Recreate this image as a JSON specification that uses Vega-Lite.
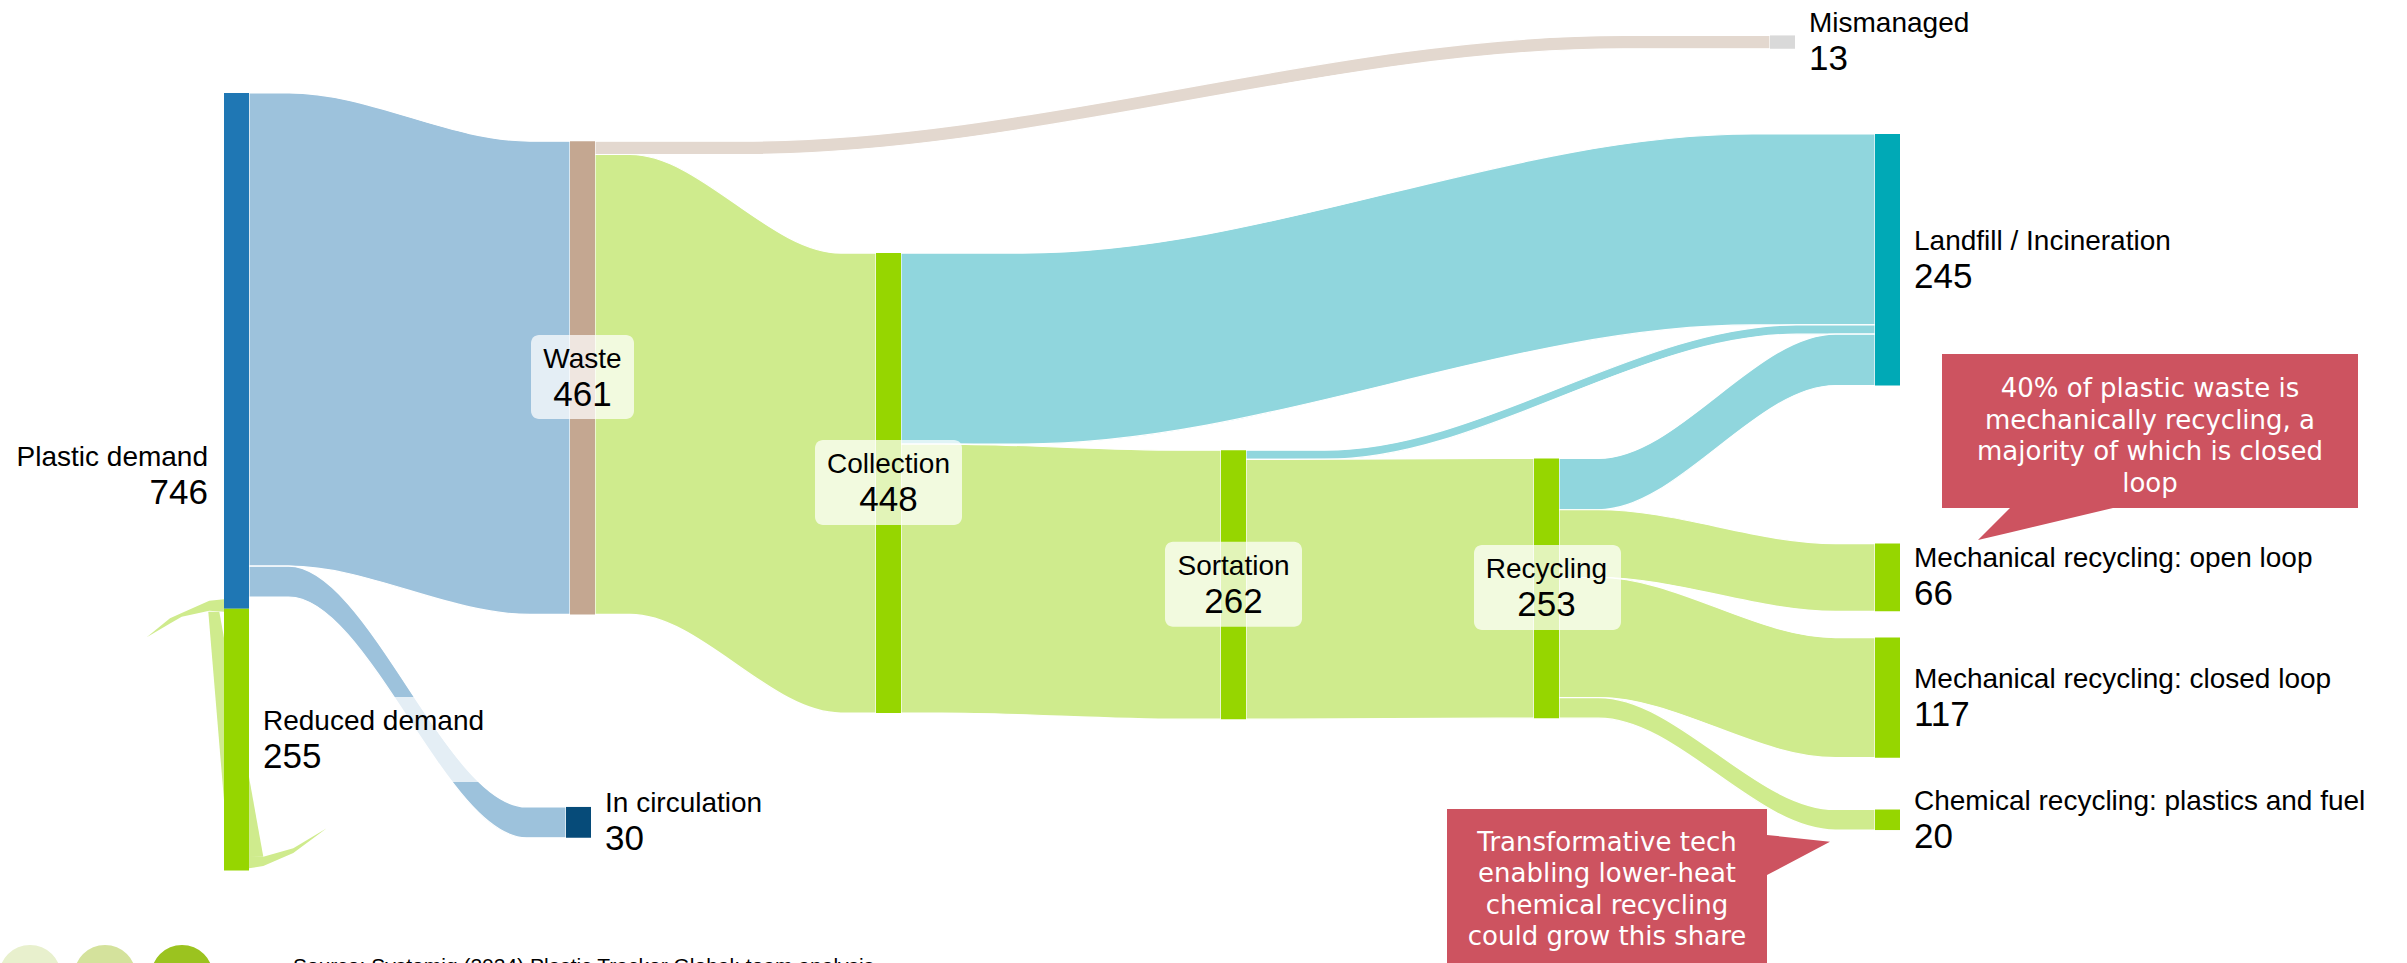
{
  "$schema": "https://vega.github.io/schema/vega-lite/v6.json",
  "width": 2407,
  "height": 963,
  "autosize": {"type": "fit", "contains": "padding"},
  "padding": 0,
  "background": "white",
  "config": {"view": {"stroke": null}},
  "datasets": {
    "links": [
      {"link": "PD-W", "kind": "demand flow", "x": 249, "y": 90.5, "y2": 551.5},
      {"link": "PD-W", "kind": "demand flow", "x": 289.1, "y": 90.5, "y2": 551.5},
      {"link": "PD-W", "kind": "demand flow", "x": 529.9, "y": 137.5, "y2": 598.5},
      {"link": "PD-W", "kind": "demand flow", "x": 570, "y": 137.5, "y2": 598.5},
      {"link": "PD-IC", "kind": "demand flow", "x": 249, "y": 551.5, "y2": 581.5},
      {"link": "PD-IC", "kind": "demand flow", "x": 288.6, "y": 551.5, "y2": 581.5},
      {"link": "PD-IC", "kind": "demand flow", "x": 526.4, "y": 786, "y2": 816},
      {"link": "PD-IC", "kind": "demand flow", "x": 566, "y": 786, "y2": 816},
      {"link": "W-M", "kind": "mismanaged flow", "x": 595, "y": 137.5, "y2": 150.5},
      {"link": "W-M", "kind": "mismanaged flow", "x": 741.9, "y": 137.5, "y2": 150.5},
      {"link": "W-M", "kind": "mismanaged flow", "x": 1623.1, "y": 34.5, "y2": 47.5},
      {"link": "W-M", "kind": "mismanaged flow", "x": 1770, "y": 34.5, "y2": 47.5},
      {"link": "W-C", "kind": "recycling flow", "x": 595, "y": 150.5, "y2": 598.5},
      {"link": "W-C", "kind": "recycling flow", "x": 630.1, "y": 150.5, "y2": 598.5},
      {"link": "W-C", "kind": "recycling flow", "x": 840.9, "y": 246.5, "y2": 694.5},
      {"link": "W-C", "kind": "recycling flow", "x": 876, "y": 246.5, "y2": 694.5},
      {"link": "C-L", "kind": "landfill flow", "x": 901, "y": 246.5, "y2": 432.5},
      {"link": "C-L", "kind": "landfill flow", "x": 1022.8, "y": 246.5, "y2": 432.5},
      {"link": "C-L", "kind": "landfill flow", "x": 1753.2, "y": 130.5, "y2": 316.5},
      {"link": "C-L", "kind": "landfill flow", "x": 1875, "y": 130.5, "y2": 316.5},
      {"link": "C-S", "kind": "recycling flow", "x": 901, "y": 432.5, "y2": 694.5},
      {"link": "C-S", "kind": "recycling flow", "x": 941, "y": 432.5, "y2": 694.5},
      {"link": "C-S", "kind": "recycling flow", "x": 1181, "y": 438.5, "y2": 700.5},
      {"link": "C-S", "kind": "recycling flow", "x": 1221, "y": 438.5, "y2": 700.5},
      {"link": "S-L", "kind": "landfill flow", "x": 1246, "y": 438.5, "y2": 447.5},
      {"link": "S-L", "kind": "landfill flow", "x": 1324.6, "y": 438.5, "y2": 447.5},
      {"link": "S-L", "kind": "landfill flow", "x": 1796.4, "y": 316.5, "y2": 325.5},
      {"link": "S-L", "kind": "landfill flow", "x": 1875, "y": 316.5, "y2": 325.5},
      {"link": "S-R", "kind": "recycling flow", "x": 1246, "y": 447.5, "y2": 700.5},
      {"link": "S-R", "kind": "recycling flow", "x": 1282, "y": 447.5, "y2": 700.5},
      {"link": "S-R", "kind": "recycling flow", "x": 1498, "y": 446.5, "y2": 699.5},
      {"link": "S-R", "kind": "recycling flow", "x": 1534, "y": 446.5, "y2": 699.5},
      {"link": "R-L", "kind": "landfill flow", "x": 1559, "y": 446.5, "y2": 496.5},
      {"link": "R-L", "kind": "landfill flow", "x": 1598.5, "y": 446.5, "y2": 496.5},
      {"link": "R-L", "kind": "landfill flow", "x": 1835.5, "y": 325.5, "y2": 375.5},
      {"link": "R-L", "kind": "landfill flow", "x": 1875, "y": 325.5, "y2": 375.5},
      {"link": "R-O", "kind": "recycling flow", "x": 1559, "y": 496.5, "y2": 562.5},
      {"link": "R-O", "kind": "recycling flow", "x": 1598.5, "y": 496.5, "y2": 562.5},
      {"link": "R-O", "kind": "recycling flow", "x": 1835.5, "y": 529.5, "y2": 595.5},
      {"link": "R-O", "kind": "recycling flow", "x": 1875, "y": 529.5, "y2": 595.5},
      {"link": "R-CL", "kind": "recycling flow", "x": 1559, "y": 562.5, "y2": 679.5},
      {"link": "R-CL", "kind": "recycling flow", "x": 1598.5, "y": 562.5, "y2": 679.5},
      {"link": "R-CL", "kind": "recycling flow", "x": 1835.5, "y": 621, "y2": 738},
      {"link": "R-CL", "kind": "recycling flow", "x": 1875, "y": 621, "y2": 738},
      {"link": "R-CH", "kind": "recycling flow", "x": 1559, "y": 679.5, "y2": 699.5},
      {"link": "R-CH", "kind": "recycling flow", "x": 1598.5, "y": 679.5, "y2": 699.5},
      {"link": "R-CH", "kind": "recycling flow", "x": 1835.5, "y": 788.5, "y2": 808.5},
      {"link": "R-CH", "kind": "recycling flow", "x": 1875, "y": 788.5, "y2": 808.5}
    ],
    "loop": [
      {"piece": "top", "x": 146.7, "y": 620.8, "y2": 620.8},
      {"piece": "top", "x": 170, "y": 602.3, "y2": 607.4},
      {"piece": "top", "x": 181.7, "y": 597.2, "y2": 600.7},
      {"piece": "top", "x": 209.3, "y": 585.1, "y2": 594.8},
      {"piece": "top", "x": 224, "y": 583.7, "y2": 595.8},
      {"piece": "bottom", "x": 249, "y": 833.8, "y2": 845.8},
      {"piece": "bottom", "x": 263.3, "y": 834.5, "y2": 843.5},
      {"piece": "bottom", "x": 293.3, "y": 826.3, "y2": 830.8},
      {"piece": "bottom", "x": 326.7, "y": 806.8, "y2": 806.8}
    ],
    "sliver": [
      {"y": 595.8, "x": 208.3, "x2": 219.3},
      {"y": 834.5, "x": 228.7, "x2": 263.3}
    ],
    "nodes": [
      {"node": "Plastic demand", "value": 746, "kind": "demand", "x0": 224, "x1": 249, "y0": 90.5, "y1": 593, "side": "left", "lx": 224, "ly": 463.6},
      {"node": "Reduced demand", "value": 255, "kind": "reduced", "x0": 224, "x1": 249, "y0": 593, "y1": 848, "side": "right", "lx": 249, "ly": 720.5, "bx0": 250, "bx1": 502, "by0": 678.9, "by1": 761.7},
      {"node": "Waste", "value": 461, "kind": "waste", "x0": 570, "x1": 595, "y0": 137.5, "y1": 598.5, "side": "center", "lx": 582.5, "ly": 368, "bx0": 531, "bx1": 634, "by0": 326.3, "by1": 408.1},
      {"node": "In circulation", "value": 30, "kind": "circulation", "x0": 566, "x1": 591, "y0": 786, "y1": 816, "side": "right", "lx": 591, "ly": 801},
      {"node": "Collection", "value": 448, "kind": "recycling", "x0": 876, "x1": 901, "y0": 246.5, "y1": 694.5, "side": "center", "lx": 888.5, "ly": 470.5, "bx0": 815, "bx1": 962, "by0": 428.6, "by1": 511.4},
      {"node": "Mismanaged", "value": 13, "kind": "mismanaged", "x0": 1770, "x1": 1795, "y0": 34.5, "y1": 47.5, "side": "right", "lx": 1795, "ly": 41},
      {"node": "Sortation", "value": 262, "kind": "recycling", "x0": 1221, "x1": 1246, "y0": 438.5, "y1": 700.5, "side": "center", "lx": 1233.5, "ly": 569.5, "bx0": 1165, "bx1": 1302, "by0": 527.6, "by1": 610.4},
      {"node": "Recycling", "value": 253, "kind": "recycling", "x0": 1534, "x1": 1559, "y0": 446.5, "y1": 699.5, "side": "center", "lx": 1546.5, "ly": 573, "bx0": 1474, "bx1": 1621, "by0": 530.8, "by1": 613.6},
      {"node": "Landfill / Incineration", "value": 245, "kind": "landfill", "x0": 1875, "x1": 1900, "y0": 130.5, "y1": 375.5, "side": "right", "lx": 1900, "ly": 253},
      {"node": "Mechanical recycling: open loop", "value": 66, "kind": "recycling", "x0": 1875, "x1": 1900, "y0": 529.5, "y1": 595.5, "side": "right", "lx": 1900, "ly": 562.5},
      {"node": "Mechanical recycling: closed loop", "value": 117, "kind": "recycling", "x0": 1875, "x1": 1900, "y0": 621, "y1": 738, "side": "right", "lx": 1900, "ly": 679.5},
      {"node": "Chemical recycling: plastics and fuel", "value": 20, "kind": "recycling", "x0": 1875, "x1": 1900, "y0": 788.5, "y1": 808.5, "side": "right", "lx": 1900, "ly": 798.5}
    ],
    "callouts": [
      {"id": "c1", "x": 1942, "x2": 2358, "y": 344.8, "y2": 494.8, "tx": 2150, "ty": 386.7, "text": "40% of plastic waste is\nmechanically recycling, a\nmajority of which is closed\nloop"},
      {"id": "c2", "x": 1447, "x2": 1767, "y": 788, "y2": 938, "tx": 1607, "ty": 828.9, "text": "Transformative tech\nenabling lower-heat\nchemical recycling\ncould grow this share"}
    ],
    "pointers": [
      {"id": "p1", "x": 1978, "y": 526.0, "y2": 526.0},
      {"id": "p1", "x": 2010, "y": 494.8, "y2": 518.6},
      {"id": "p1", "x": 2113, "y": 494.8, "y2": 494.8},
      {"id": "p2", "x": 1760, "y": 812.5, "y2": 853.0},
      {"id": "p2", "x": 1767, "y": 813.3, "y2": 852.3},
      {"id": "p2", "x": 1830, "y": 819.9, "y2": 819.9}
    ],
    "dots": [
      {"x": 30, "y": 950.7, "shade": "light"},
      {"x": 105, "y": 950.7, "shade": "mid"},
      {"x": 182, "y": 950.7, "shade": "dark"}
    ],
    "source": [
      {"x": 293, "y": 948, "text": "Source: Systemiq (2024) Plastic Tracker Global; team analysis"}
    ]
  },
  "layer": [
    {
      "data": {"name": "links"},
      "mark": {"type": "area", "interpolate": "monotone", "stroke": "white", "strokeWidth": 1.2, "opacity": 1},
      "encoding": {
        "x": {"field": "x", "type": "quantitative", "scale": {"domain": [0, 2407], "nice": false, "zero": false}, "axis": null},
        "y": {"field": "y", "type": "quantitative", "scale": {"domain": [0, 938], "nice": false, "zero": false, "reverse": true}, "axis": null},
        "y2": {"field": "y2"},
        "detail": {"field": "link", "type": "nominal"},
        "color": {"field": "kind", "type": "nominal", "legend": null,
          "scale": {"domain": ["demand", "reduced", "waste", "circulation", "mismanaged", "landfill", "recycling", "demand flow", "mismanaged flow", "landfill flow", "recycling flow"],
                    "range": ["#1f77b4", "#96d600", "#c4a791", "#064b79", "#d9d9d9", "#00a9b6", "#96d600", "#9dc2dc", "#e3d8cf", "#90d6dd", "#cfeb8d"]}}
      }
    },
    {
      "data": {"name": "loop"},
      "mark": {"type": "area", "interpolate": "linear", "color": "#cfeb8d"},
      "encoding": {
        "x": {"field": "x", "type": "quantitative", "scale": {"domain": [0, 2407], "nice": false, "zero": false}, "axis": null},
        "y": {"field": "y", "type": "quantitative", "scale": {"domain": [0, 938], "nice": false, "zero": false, "reverse": true}, "axis": null},
        "y2": {"field": "y2"},
        "detail": {"field": "piece", "type": "nominal"}
      }
    },
    {
      "data": {"name": "sliver"},
      "mark": {"type": "area", "orient": "horizontal", "interpolate": "linear", "color": "#cfeb8d"},
      "encoding": {
        "y": {"field": "y", "type": "quantitative", "scale": {"domain": [0, 938], "nice": false, "zero": false, "reverse": true}, "axis": null},
        "x": {"field": "x", "type": "quantitative", "scale": {"domain": [0, 2407], "nice": false, "zero": false}, "axis": null},
        "x2": {"field": "x2"}
      }
    },
    {
      "data": {"name": "nodes"},
      "mark": {"type": "rect"},
      "encoding": {
        "x": {"field": "x0", "type": "quantitative", "scale": {"domain": [0, 2407], "nice": false, "zero": false}, "axis": null},
        "x2": {"field": "x1"},
        "y": {"field": "y0", "type": "quantitative", "scale": {"domain": [0, 938], "nice": false, "zero": false, "reverse": true}, "axis": null},
        "y2": {"field": "y1"},
        "color": {"field": "kind", "type": "nominal", "legend": null,
          "scale": {"domain": ["demand", "reduced", "waste", "circulation", "mismanaged", "landfill", "recycling", "demand flow", "mismanaged flow", "landfill flow", "recycling flow"],
                    "range": ["#1f77b4", "#96d600", "#c4a791", "#064b79", "#d9d9d9", "#00a9b6", "#96d600", "#9dc2dc", "#e3d8cf", "#90d6dd", "#cfeb8d"]}}
      }
    },
    {
      "data": {"name": "nodes"},
      "transform": [{"filter": "isValid(datum.bx0)"}],
      "mark": {"type": "rect", "color": "white", "fillOpacity": 0.72, "cornerRadius": 8},
      "encoding": {
        "x": {"field": "bx0", "type": "quantitative", "scale": {"domain": [0, 2407], "nice": false, "zero": false}, "axis": null},
        "x2": {"field": "bx1"},
        "y": {"field": "by0", "type": "quantitative", "scale": {"domain": [0, 938], "nice": false, "zero": false, "reverse": true}, "axis": null},
        "y2": {"field": "by1"}
      }
    },
    {
      "data": {"name": "nodes"},
      "transform": [{"filter": "datum.side == 'center'"}],
      "layer": [
        {"mark": {"type": "text", "font": "Liberation Sans", "fontSize": 28, "align": "center", "baseline": "alphabetic", "dy": -10, "color": "black"},
         "encoding": {"text": {"field": "node"}}},
        {"mark": {"type": "text", "font": "Liberation Sans", "fontSize": 35, "align": "center", "baseline": "alphabetic", "dy": 28, "color": "black"},
         "encoding": {"text": {"field": "value", "type": "quantitative", "format": "d"}}}
      ],
      "encoding": {
        "x": {"field": "lx", "type": "quantitative", "scale": {"domain": [0, 2407], "nice": false, "zero": false}, "axis": null},
        "y": {"field": "ly", "type": "quantitative", "scale": {"domain": [0, 938], "nice": false, "zero": false, "reverse": true}, "axis": null}
      }
    },
    {
      "data": {"name": "nodes"},
      "transform": [{"filter": "datum.side == 'right'"}],
      "layer": [
        {"mark": {"type": "text", "font": "Liberation Sans", "fontSize": 28, "align": "left", "baseline": "alphabetic", "dx": 14, "dy": -10, "color": "black"},
         "encoding": {"text": {"field": "node"}}},
        {"mark": {"type": "text", "font": "Liberation Sans", "fontSize": 35, "align": "left", "baseline": "alphabetic", "dx": 14, "dy": 28, "color": "black"},
         "encoding": {"text": {"field": "value", "type": "quantitative", "format": "d"}}}
      ],
      "encoding": {
        "x": {"field": "lx", "type": "quantitative", "scale": {"domain": [0, 2407], "nice": false, "zero": false}, "axis": null},
        "y": {"field": "ly", "type": "quantitative", "scale": {"domain": [0, 938], "nice": false, "zero": false, "reverse": true}, "axis": null}
      }
    },
    {
      "data": {"name": "nodes"},
      "transform": [{"filter": "datum.side == 'left'"}],
      "layer": [
        {"mark": {"type": "text", "font": "Liberation Sans", "fontSize": 28, "align": "right", "baseline": "alphabetic", "dx": -16, "dy": -10, "color": "black"},
         "encoding": {"text": {"field": "node"}}},
        {"mark": {"type": "text", "font": "Liberation Sans", "fontSize": 35, "align": "right", "baseline": "alphabetic", "dx": -16, "dy": 28, "color": "black"},
         "encoding": {"text": {"field": "value", "type": "quantitative", "format": "d"}}}
      ],
      "encoding": {
        "x": {"field": "lx", "type": "quantitative", "scale": {"domain": [0, 2407], "nice": false, "zero": false}, "axis": null},
        "y": {"field": "ly", "type": "quantitative", "scale": {"domain": [0, 938], "nice": false, "zero": false, "reverse": true}, "axis": null}
      }
    },
    {
      "data": {"name": "callouts"},
      "mark": {"type": "rect", "color": "#cd5360", "clip": true},
      "encoding": {
        "x": {"field": "x", "type": "quantitative", "scale": {"domain": [0, 2407], "nice": false, "zero": false}, "axis": null},
        "x2": {"field": "x2"},
        "y": {"field": "y", "type": "quantitative", "scale": {"domain": [0, 938], "nice": false, "zero": false, "reverse": true}, "axis": null},
        "y2": {"field": "y2"}
      }
    },
    {
      "data": {"name": "pointers"},
      "mark": {"type": "area", "interpolate": "linear", "color": "#cd5360"},
      "encoding": {
        "x": {"field": "x", "type": "quantitative", "scale": {"domain": [0, 2407], "nice": false, "zero": false}, "axis": null},
        "y": {"field": "y", "type": "quantitative", "scale": {"domain": [0, 938], "nice": false, "zero": false, "reverse": true}, "axis": null},
        "y2": {"field": "y2"},
        "detail": {"field": "id", "type": "nominal"}
      }
    },
    {
      "data": {"name": "callouts"},
      "mark": {"type": "text", "font": "DejaVu Sans", "fontSize": 26, "lineHeight": 31.5, "lineBreak": "\n", "align": "center", "baseline": "alphabetic", "color": "white", "clip": true},
      "encoding": {
        "x": {"field": "tx", "type": "quantitative", "scale": {"domain": [0, 2407], "nice": false, "zero": false}, "axis": null},
        "y": {"field": "ty", "type": "quantitative", "scale": {"domain": [0, 938], "nice": false, "zero": false, "reverse": true}, "axis": null},
        "text": {"field": "text"}
      }
    },
    {
      "data": {"name": "dots"},
      "mark": {"type": "point", "shape": "circle", "filled": true, "opacity": 1, "size": 3850, "clip": true},
      "encoding": {
        "x": {"field": "x", "type": "quantitative", "scale": {"domain": [0, 2407], "nice": false, "zero": false}, "axis": null},
        "y": {"field": "y", "type": "quantitative", "scale": {"domain": [0, 938], "nice": false, "zero": false, "reverse": true}, "axis": null},
        "fill": {"field": "shade", "type": "nominal", "legend": null,
          "scale": {"domain": ["light", "mid", "dark"], "range": ["#e8f0cd", "#d4e29c", "#9bc31f"]}}
      }
    },
    {
      "data": {"name": "source"},
      "mark": {"type": "text", "font": "Liberation Sans", "fontSize": 21, "align": "left", "baseline": "alphabetic", "color": "black", "clip": true},
      "encoding": {
        "x": {"field": "x", "type": "quantitative", "scale": {"domain": [0, 2407], "nice": false, "zero": false}, "axis": null},
        "y": {"field": "y", "type": "quantitative", "scale": {"domain": [0, 938], "nice": false, "zero": false, "reverse": true}, "axis": null},
        "text": {"field": "text"}
      }
    }
  ]
}
